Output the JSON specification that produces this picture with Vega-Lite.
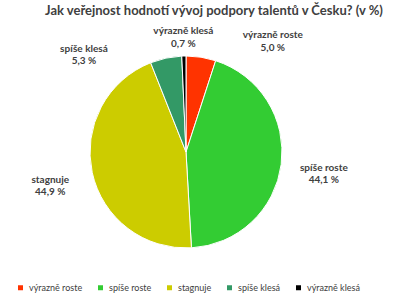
{
  "$schema": "https://vega.github.io/schema/vega-lite/v6.json",
  "autosize": {"type": "none"},
  "width": 362,
  "height": 250,
  "padding": {"left": 5, "right": 33, "top": 27, "bottom": 23},
  "title": {"text": "Jak veřejnost hodnotí vývoj podpory talentů v Česku? (v %)", "font": "Lato", "fontSize": 13, "fontWeight": "bold", "color": "#404040", "anchor": "middle", "dx": 28, "offset": 8},
  "data": {"values": [
    {"kategorie": "výrazně roste", "hodnota": 5.0, "poradi": 1, "popisek": "výrazně roste\n5,0 %"},
    {"kategorie": "spíše roste", "hodnota": 44.1, "poradi": 2, "popisek": "spíše roste\n44,1 %"},
    {"kategorie": "stagnuje", "hodnota": 44.9, "poradi": 3, "popisek": "stagnuje\n44,9 %"},
    {"kategorie": "spíše klesá", "hodnota": 5.3, "poradi": 4, "popisek": "spíše klesá\n5,3 %"},
    {"kategorie": "výrazně klesá", "hodnota": 0.7, "poradi": 5, "popisek": "výrazně klesá\n0,7 %"}
  ]},
  "encoding": {
    "theta": {"field": "hodnota", "type": "quantitative", "stack": true},
    "order": {"field": "poradi", "type": "quantitative"}
  },
  "layer": [
    {
      "mark": {"type": "arc", "outerRadius": 96, "stroke": "white", "strokeWidth": 1},
      "encoding": {
        "color": {
          "field": "kategorie", "type": "nominal",
          "scale": {"domain": ["výrazně roste", "spíše roste", "stagnuje", "spíše klesá", "výrazně klesá"],
                    "range": ["#FF3300", "#33CC33", "#CCCC00", "#339966", "#000000"]},
          "legend": {"title": null, "orient": "none", "legendX": 11, "legendY": 256, "padding": 0, "direction": "horizontal", "symbolType": "square", "symbolSize": 25, "labelFont": "Lato", "labelFontSize": 9, "labelColor": "#404040", "columnPadding": 13, "labelOffset": 4, "symbolStrokeWidth": 0}
        }
      }
    },
    {
      "mark": {"type": "text", "radius": {"expr": "datum.kategorie === 'spíše roste' || datum.kategorie === 'stagnuje' ? 139 : 0"}, "dy": -2, "font": "Lato", "fontSize": 10, "fontWeight": "bold", "color": "#404040", "lineBreak": "\n", "lineHeight": 12.5},
      "encoding": {
        "text": {"condition": {"test": "datum.kategorie == 'spíše roste' || datum.kategorie == 'stagnuje'", "field": "popisek"}, "value": ""}
      }
    },
    {
      "mark": {"type": "text", "radius": {"expr": "datum.kategorie === 'výrazně roste' ? 120 : 0"}, "dx": 68, "dy": 2, "font": "Lato", "fontSize": 10, "fontWeight": "bold", "color": "#404040", "lineBreak": "\n", "lineHeight": 12.5},
      "encoding": {
        "text": {"condition": {"test": "datum.kategorie == 'výrazně roste'", "field": "popisek"}, "value": ""}
      }
    },
    {
      "mark": {"type": "text", "radius": {"expr": "datum.kategorie === 'spíše klesá' ? 120 : 0"}, "dx": -77, "dy": 14, "font": "Lato", "fontSize": 10, "fontWeight": "bold", "color": "#404040", "lineBreak": "\n", "lineHeight": 12.5},
      "encoding": {
        "text": {"condition": {"test": "datum.kategorie == 'spíše klesá'", "field": "popisek"}, "value": ""}
      }
    },
    {
      "mark": {"type": "text", "radius": {"expr": "datum.kategorie === 'výrazně klesá' ? 121 : 0"}, "font": "Lato", "fontSize": 10, "fontWeight": "bold", "color": "#404040", "lineBreak": "\n", "lineHeight": 12.5},
      "encoding": {
        "text": {"condition": {"test": "datum.kategorie == 'výrazně klesá'", "field": "popisek"}, "value": ""}
      }
    }
  ],
  "config": {"view": {"stroke": null}}
}
